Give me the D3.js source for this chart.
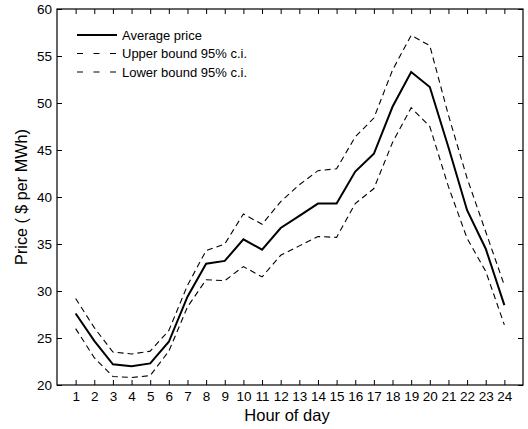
<!DOCTYPE html>
<html>
<head>
<meta charset="utf-8">
<script src="https://cdn.jsdelivr.net/npm/d3@7"></script>
<style>
  body { margin: 0; background: #fff; }
  text { font-family: "Liberation Sans", Arial, Helvetica, sans-serif; fill: #000; }
</style>
</head>
<body>
<svg id="chart" width="528" height="429"></svg>
<script>
// Hourly electricity price with 95% confidence band
const hours = d3.range(1, 25);
const averagePrice = [27.6, 24.7, 22.2, 22.0, 22.3, 24.6, 29.4, 32.9, 33.2, 35.5, 34.4, 36.7,
                      38.0, 39.3, 39.3, 42.7, 44.6, 49.6, 53.3, 51.7, 45.3, 38.6, 34.5, 28.5];
const upperBound = [29.2, 26.1, 23.5, 23.3, 23.6, 25.8, 30.6, 34.3, 35.0, 38.2, 37.1, 39.5,
                    41.3, 42.8, 43.0, 46.4, 48.4, 53.5, 57.2, 56.1, 48.7, 42.0, 36.3, 30.6];
const lowerBound = [26.0, 22.9, 20.9, 20.8, 21.0, 23.6, 28.3, 31.2, 31.1, 32.6, 31.5, 33.8,
                    34.8, 35.8, 35.7, 39.3, 40.9, 45.8, 49.5, 47.5, 41.1, 35.6, 32.1, 26.4];
const yTicks = [20, 25, 30, 35, 40, 45, 50, 55, 60];
const seriesNames = ["Average price", "Upper bound 95% c.i.", "Lower bound 95% c.i."];

const svg = d3.select("#chart");
const plot = { left: 57, right: 523, top: 9, bottom: 385 };

const x = d3.scaleLinear().domain([0, 25]).range([plot.left, plot.right]);
const y = d3.scaleLinear().domain([20, 60]).range([plot.bottom, plot.top]);

const tickLen = 5;
const tickFont = 13.5;

// Inward-facing ticks on all four sides
const g = svg.append("g");
g.append("g").attr("transform", `translate(0,${plot.bottom})`)
  .call(d3.axisBottom(x).tickValues(hours).tickSize(-tickLen).tickPadding(6).tickFormat(d3.format("d")));
g.append("g").attr("transform", `translate(0,${plot.top})`)
  .call(d3.axisTop(x).tickValues(hours).tickSize(-tickLen).tickFormat(""));
g.append("g").attr("transform", `translate(${plot.left},0)`)
  .call(d3.axisLeft(y).tickValues(yTicks).tickSize(-tickLen).tickPadding(5).tickFormat(d3.format("d")));
g.append("g").attr("transform", `translate(${plot.right},0)`)
  .call(d3.axisRight(y).tickValues(yTicks).tickSize(-tickLen).tickFormat(""));

g.selectAll(".domain").remove();
g.selectAll(".tick line").attr("stroke", "#000").attr("stroke-width", 1);
g.selectAll(".tick text").attr("font-size", tickFont).attr("fill", "#000")
  .style("font-family", "'Liberation Sans', Arial, sans-serif");

// Plot frame
svg.append("rect")
  .attr("x", plot.left).attr("y", plot.top)
  .attr("width", plot.right - plot.left).attr("height", plot.bottom - plot.top)
  .attr("fill", "none").attr("stroke", "#000").attr("stroke-width", 1.2);

const line = d3.line().x((d, i) => x(hours[i])).y(d => y(d));

const styles = [
  { data: averagePrice, width: 2, dash: null, legendDash: null },
  { data: upperBound, width: 1.1, dash: "6,4", legendDash: "6,10.5" },
  { data: lowerBound, width: 1.1, dash: "6,4", legendDash: "6,10.5" }
];

styles.forEach(s => {
  svg.append("path")
    .datum(s.data)
    .attr("d", line)
    .attr("fill", "none")
    .attr("stroke", "#000")
    .attr("stroke-width", s.width)
    .attr("stroke-dasharray", s.dash)
    .attr("stroke-linejoin", "miter");
});

// Legend
const legend = svg.append("g");
const legendY = [35, 53.5, 72];
styles.forEach((s, i) => {
  legend.append("line")
    .attr("x1", 77).attr("x2", 117)
    .attr("y1", legendY[i]).attr("y2", legendY[i])
    .attr("stroke", "#000")
    .attr("stroke-width", s.width)
    .attr("stroke-dasharray", s.legendDash);
  legend.append("text")
    .attr("x", 122).attr("y", legendY[i])
    .attr("dy", "0.35em")
    .attr("font-size", 13)
    .text(seriesNames[i]);
});

// Axis titles
svg.append("text")
  .attr("x", (plot.left + plot.right) / 2 - 3).attr("y", 421)
  .attr("text-anchor", "middle")
  .attr("font-size", 16.5)
  .text("Hour of day");

svg.append("text")
  .attr("transform", `translate(27,${(plot.top + plot.bottom) / 2}) rotate(-90)`)
  .attr("text-anchor", "middle")
  .attr("font-size", 16.2)
  .text("Price ( $ per MWh)");
</script>
</body>
</html>
